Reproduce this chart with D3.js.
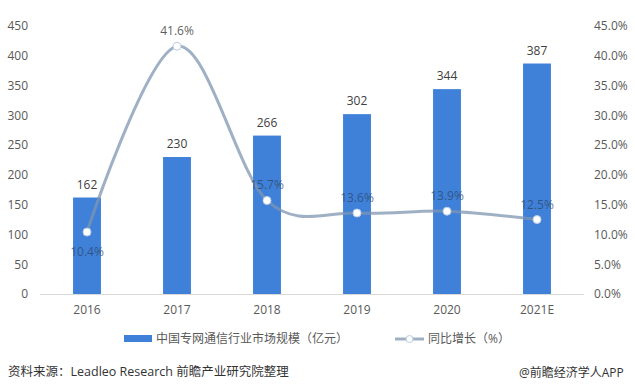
<!DOCTYPE html>
<html lang="zh">
<head>
<meta charset="UTF-8">
<title>中国专网通信行业市场规模</title>
<script src="https://d3js.org/d3.v7.min.js"></script>
<style>
    body { margin: 0; background: #fff; }
    svg text { font-family: "Open Sans", "Noto Sans CJK SC", sans-serif; }
    .axis text { font-size: 12px; fill: #595959; }
    .axis path, .axis line { display: none; }
</style>
</head>
<body>
<svg width="635" height="391"></svg>
<script>
var years = ["2016", "2017", "2018", "2019", "2020", "2021E"];
var marketSize = [162, 230, 266, 302, 344, 387];       // 亿元
var growth = [10.4, 41.6, 15.7, 13.6, 13.9, 12.5];     // %
var leftTicks = [0, 50, 100, 150, 200, 250, 300, 350, 400, 450];
var rightTicks = [0, 5, 10, 15, 20, 25, 30, 35, 40, 45];
// 折线标签放在点的上方(1)还是下方(-1)
var labelSide = [-1, 1, 1, 1, 1, 1];

var svg = d3.select("svg");
var plotLeft = 42, plotRight = 582, plotTop = 26, plotBottom = 294;

var x = d3.scaleBand().domain(years).range([plotLeft, plotRight]).paddingInner(0.69).paddingOuter(0.345);
var y = d3.scaleLinear().domain([0, 450]).range([plotBottom, plotTop]);
var y2 = d3.scaleLinear().domain([0, 45]).range([plotBottom, plotTop]);

// 左轴
svg.append("g").attr("class", "axis")
   .attr("transform", "translate(32,0)")
   .call(d3.axisLeft(y).tickValues(leftTicks).tickSize(0).tickPadding(4));

// 右轴
svg.append("g").attr("class", "axis")
   .attr("transform", "translate(590,0)")
   .call(d3.axisRight(y2).tickValues(rightTicks).tickSize(0).tickPadding(4)
        .tickFormat(function(d) { return d.toFixed(1) + "%"; }));

// x 轴
svg.append("g").attr("class", "axis")
   .attr("transform", "translate(0," + plotBottom + ")")
   .call(d3.axisBottom(x).tickSize(0).tickPadding(11));

svg.append("line")
   .attr("x1", 40).attr("x2", 584)
   .attr("y1", plotBottom + 0.5).attr("y2", plotBottom + 0.5)
   .attr("stroke", "#d9d9d9");

// 柱子
svg.selectAll("rect.bar").data(marketSize).enter().append("rect")
   .attr("class", "bar")
   .attr("fill", "#3f80d9")
   .attr("x", function(d, i) { return x(years[i]); })
   .attr("width", x.bandwidth())
   .attr("y", function(d) { return y(d); })
   .attr("height", function(d) { return plotBottom - y(d); });

svg.selectAll("text.barlab").data(marketSize).enter().append("text")
   .attr("class", "barlab")
   .attr("x", function(d, i) { return x(years[i]) + x.bandwidth() / 2; })
   .attr("y", function(d) { return y(d) - 9; })
   .attr("text-anchor", "middle")
   .attr("font-size", 12)
   .attr("fill", "#404040")
   .text(function(d) { return d; });

// 折线
var cx = function(i) { return x(years[i]) + x.bandwidth() / 2; };
var line = d3.line()
   .x(function(d, i) { return cx(i); })
   .y(function(d) { return y2(d); })
   .curve(d3.curveCatmullRom.alpha(0));

svg.append("path").datum(growth)
   .attr("d", line)
   .attr("fill", "none")
   .attr("stroke", "#7f96b2")
   .attr("stroke-opacity", 0.75)
   .attr("stroke-width", 3);

svg.selectAll("circle.pt").data(growth).enter().append("circle")
   .attr("class", "pt")
   .attr("cx", function(d, i) { return cx(i); })
   .attr("cy", function(d) { return y2(d); })
   .attr("r", 4)
   .attr("fill", "#fff")
   .attr("stroke", "#b9cde6")
   .attr("stroke-width", 1);

svg.selectAll("text.linelab").data(growth).enter().append("text")
   .attr("class", "linelab")
   .attr("x", function(d, i) { return cx(i); })
   .attr("y", function(d, i) { return labelSide[i] > 0 ? y2(d) - 11 : y2(d) + 24; })
   .attr("text-anchor", "middle")
   .attr("font-size", 12)
   .attr("fill", function(d, i) { return i === 1 ? "#404040" : "#2f4f74"; })
   .attr("fill-opacity", 0.85)
   .text(function(d) { return d.toFixed(1) + "%"; });

// 图例
var lg = svg.append("g").attr("font-size", 12);
lg.append("rect").attr("x", 124).attr("y", 335).attr("width", 28).attr("height", 7).attr("fill", "#3f80d9");
lg.append("text").attr("x", 156).attr("y", 343).attr("fill", "#595959").text("中国专网通信行业市场规模（亿元）");
lg.append("line").attr("x1", 395).attr("x2", 424).attr("y1", 339).attr("y2", 339)
   .attr("stroke", "#7f96b2").attr("stroke-opacity", 0.75).attr("stroke-width", 3);
lg.append("circle").attr("cx", 409.5).attr("cy", 339).attr("r", 3.5)
   .attr("fill", "#fff").attr("stroke", "#b9cde6");
lg.append("text").attr("x", 428).attr("y", 343).attr("fill", "#595959").text("同比增长（%）");

// 来源
svg.append("text").attr("x", 8).attr("y", 376).attr("font-size", 12.5).attr("fill", "#333")
   .text("资料来源：Leadleo Research 前瞻产业研究院整理");
svg.append("text").attr("x", 519).attr("y", 377).attr("font-size", 12).attr("fill", "#333")
   .text("@前瞻经济学人APP");
</script>
</body>
</html>
